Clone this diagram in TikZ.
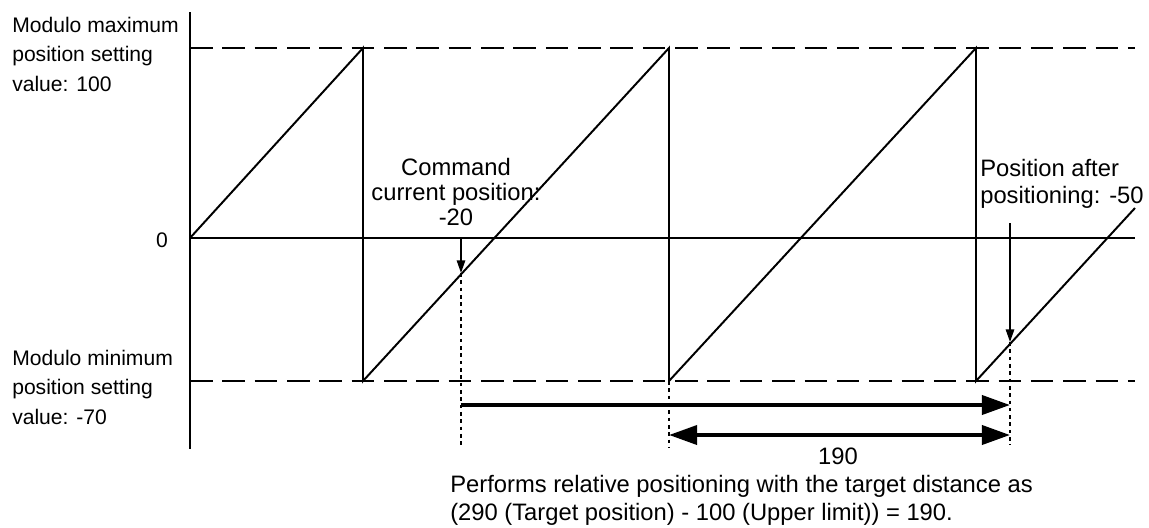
\documentclass[tikz,border=0pt]{standalone}
\usepackage{fontspec}
\setmainfont{Liberation Sans}
\usetikzlibrary{arrows.meta, positioning}

\begin{document}
\begin{tikzpicture}[x=0.025cm, y=-0.025cm,
      every node/.style={inner sep=0pt},
      lbl/.style={font=\fontsize{15}{20.9}\selectfont},
      note/.style={font=\fontsize{16.9}{#1}\selectfont},
      note/.default=19.8pt,
      ln/.style={line width=1.4pt},
      lim/.style={line width=1.4pt, dash pattern=on 16pt off 7pt},
      guide/.style={line width=1pt, dash pattern=on 2.6pt off 2.6pt},
      pointer/.style={line width=1.1pt, -{Triangle[length=9pt, width=6pt]}},
      span/.style={line width=2.8pt, -{Triangle[length=20pt, width=13.5pt]}},
      twospan/.style={line width=2.8pt, {Triangle[length=20pt, width=13.5pt]}-{Triangle[length=20pt, width=13.5pt]}}]
    \useasboundingbox (0,0) rectangle (1149,527);
    \coordinate (axtop) at (190,12);
    \coordinate (axbot) at (190,449);
    \coordinate (max0) at (190,48);   \coordinate (max1) at (1135,48);
    \coordinate (zero0) at (190,238); \coordinate (zero1) at (1135,238);
    \coordinate (min0) at (190,381);  \coordinate (min1) at (1135,381);
    \coordinate (pk1) at (363,48);  \coordinate (lo1) at (363,381);
    \coordinate (pk2) at (669,48);  \coordinate (lo2) at (669,381);
    \coordinate (pk3) at (976,48);  \coordinate (lo3) at (976,381);
    \coordinate (tail) at (1135,208);
    \coordinate (cmd) at (461,238);  \coordinate (cmdhit) at (461,273);
    \coordinate (cmdend) at (461,448); \coordinate (lo2end) at (669,448);
    \coordinate (pos) at (1010,223); \coordinate (poshit) at (1010,342);
    \coordinate (posend) at (1010,445);
    \coordinate (runA) at (461,405); \coordinate (runB) at (1010,405);
    \coordinate (netA) at (669,435); \coordinate (netB) at (1010,435);

    \draw[ln] (axtop) -- (axbot);
    \draw[lim] (max0) -- (max1);
    \draw[lim] (min0) -- (min1);
    \draw[line width=1.2pt] (zero0) -- (zero1);
    \draw[ln] (zero0) -- (pk1) -- (lo1) -- (pk2) -- (lo2) -- (pk3) -- (lo3) -- (tail);

    \draw[pointer] (cmd) -- (cmdhit);
    \draw[pointer] (pos) -- (poshit);
    \draw[guide] (cmdhit) -- (cmdend);
    \draw[guide] (lo2) -- (lo2end);
    \draw[guide] (poshit) -- (posend);
    \draw[span] (runA) -- (runB);
    \draw[twospan] (netA) -- (netB);

    \node[lbl, align=left, anchor=north west] (maxlbl) at (12,17)
      {Modulo maximum\\position setting\\value: 100};
    \node[lbl] (zerolbl) at (162,240) {0};
    \node[lbl, align=left, anchor=north west] (minlbl) at (12,350)
      {Modulo minimum\\position setting\\value: -70};
    \node[note=17.7pt, align=center, anchor=north] (cmdlbl) at (456,158)
      {Command\\current position:\\-20};
    \node[note=19.1pt, align=left, anchor=north west] (poslbl) at (980,159)
      {Position after\\positioning: -50};
    \node[note] (spanlbl) at (838,456) {190};
    \node[note, align=left, anchor=north west] (notelbl) at (450,475)
      {Performs relative positioning with the target distance as\\(290 (Target position) - 100 (Upper limit)) = 190.};
\end{tikzpicture}
\end{document}
